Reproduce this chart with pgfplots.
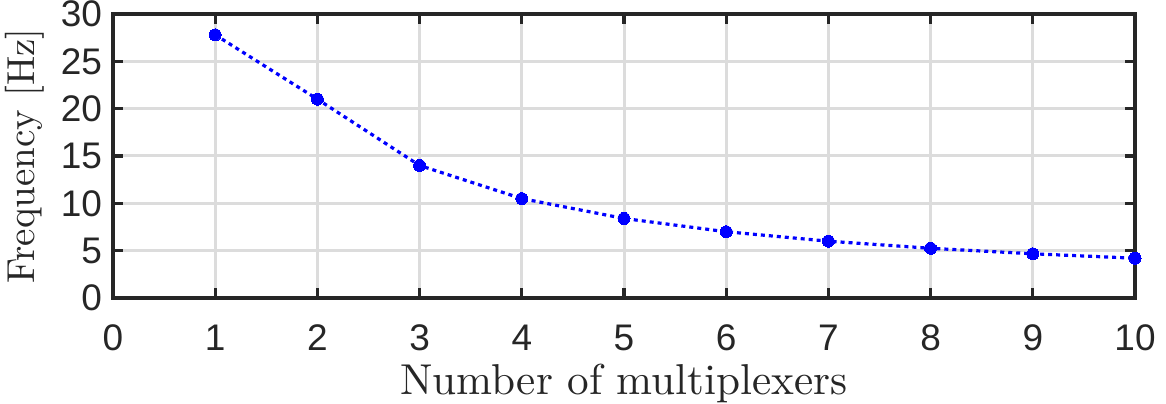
\documentclass[border=0pt]{standalone}
\usepackage{pgfplots}
\pgfplotsset{compat=1.18}
\usetikzlibrary{calc}
\usepackage{fontspec}
\newfontfamily\arialfont{Liberation Sans}
\newfontfamily\cmten{lmroman10-regular.otf}
\definecolor{axgray}{HTML}{262626}
\definecolor{gridgray}{HTML}{DCDCDC}
\begin{document}
\begin{tikzpicture}
\begin{axis}[
  name=ax,
  scale only axis,
  width=511pt, height=142pt,
  xmin=0, xmax=10, ymin=0, ymax=30,
  xtick={0,1,...,10}, ytick={0,5,...,30},
  tick align=inside,
  major tick length=5pt,
  axis line style={line width=1.6pt, axgray},
  every tick/.style={axgray, line width=1.6pt},
  grid=major,
  major grid style={gridgray, line width=1.5pt},
  tick label style={font=\arialfont\fontsize{18.5}{20}\selectfont, text=axgray},
  xticklabel style={yshift=-10pt},
  yticklabel style={xshift=-2pt},
  /pgf/number format/assume math mode=true,
  xlabel={Number of multiplexers},
  ylabel={Frequency [Hz]},
  every axis x label/.style={at={(axis description cs:0.5,-0.3415)}, anchor=base, font=\cmten\fontsize{21.6}{24}\selectfont, text=axgray},
  every axis y label/.style={at={(axis description cs:-0.0861,0.5)}, rotate=90, anchor=center, font=\cmten\fontsize{19.5}{22}\selectfont, text=axgray},
]
\addplot[blue, line width=1.6pt, dash pattern=on 2pt off 2pt, mark=*, mark size=3pt, mark options={solid, fill=blue, draw=blue, line width=0pt}]
coordinates {(1,27.8) (2,21.0) (3,14.0) (4,10.5) (5,8.4) (6,7.0) (7,6.0) (8,5.25) (9,4.67) (10,4.2)};
\end{axis}
\pgfresetboundingbox
\path[use as bounding box] ($(ax.south west)+(-56.5pt,-53pt)$) rectangle ($(ax.north east)+(15.5pt,7pt)$);
\end{tikzpicture}
\end{document}
